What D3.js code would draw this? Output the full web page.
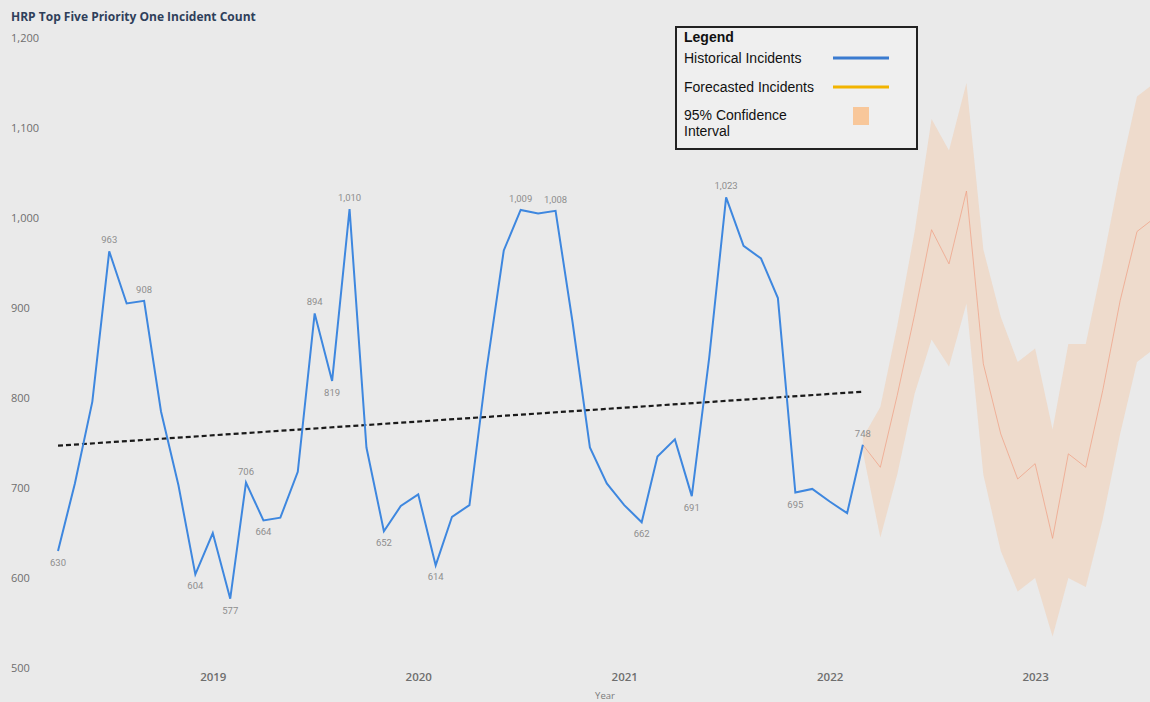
<!DOCTYPE html>
<html>
<head>
<meta charset="utf-8">
<script src="https://cdn.jsdelivr.net/npm/d3@7"></script>
<style>
  body { margin: 0; background: #eaeaea; }
  svg { display: block; }
  .axis text { font-family: "Open Sans", sans-serif; fill: #6e6e6e; }
  .axis path, .axis line { display: none; }
  .dlabel { font-family: "Liberation Sans Narrow", "Roboto", sans-serif; font-size: 9.5px; fill: #8e8e8e; }
  .legend text { font-family: "Liberation Sans", Arial, sans-serif; fill: #111; }
</style>
</head>
<body>
<svg width="1150" height="702"></svg>
<script>
// monthly historical counts, starting April 2018
const startMonth = new Date(2018, 3, 1);
const historical = [630, 705, 796, 963, 905, 908, 785, 703, 604, 650, 577, 706,
                    664, 667, 718, 894, 819, 1010, 745, 652, 680, 693, 614, 668,
                    681, 830, 964, 1009, 1005, 1008, 885, 745, 705, 681, 662, 735,
                    754, 691, 845, 1023, 969, 955, 911, 695, 699, 685, 672, 748];
// forecast starts at the last historical month (index 47)
const forecastStart = 47;
const forecast = [748, 723, 803, 893, 987, 949, 1030, 838, 760, 710, 727, 644, 738, 723, 808, 908, 985, 1000];
const lower    = [740, 645, 715, 805, 865, 835, 905, 715, 630, 585, 600, 535, 600, 590, 665, 760, 840, 855];
const upper    = [756, 790, 880, 985, 1110, 1075, 1150, 965, 890, 840, 855, 765, 860, 860, 950, 1050, 1135, 1150];
// dotted trend line, value at first and last historical month
const trend = [747, 807];
// months that carry a data label
const labelled = [0, 3, 5, 8, 10, 11, 12, 15, 16, 17, 19, 22, 27, 29, 34, 37, 39, 43, 47];
const yTicks = [500, 600, 700, 800, 900, 1000, 1100, 1200];
const legendItems = ["Historical Incidents", "Forecasted Incidents"];

const month = i => d3.timeMonth.offset(startMonth, i);

const svg = d3.select("svg");

const x = d3.scaleTime()
    .domain([new Date(2018, 3, 1), new Date(2023, 6, 1)])
    .range([58, 1137]);

const y = d3.scaleLinear()
    .domain([500, 1200])
    .range([668, 38]);

// title
svg.append("text")
    .attr("x", 11).attr("y", 21)
    .attr("font-family", "Open Sans, sans-serif")
    .attr("font-weight", 700)
    .attr("font-size", 12)
    .attr("fill", "#2f3f5a")
    .text("HRP Top Five Priority One Incident Count");

// axes
const yAxis = d3.axisRight(y)
    .tickValues(yTicks)
    .tickSize(0)
    .tickPadding(0)
    .tickFormat(d3.format(","));

svg.append("g")
    .attr("class", "axis")
    .attr("transform", "translate(11,0)")
    .call(yAxis)
    .selectAll("text").attr("font-size", 11);

const xAxis = d3.axisBottom(x)
    .ticks(d3.timeYear.every(1))
    .tickSize(0)
    .tickPadding(0)
    .tickFormat(d3.timeFormat("%Y"));

svg.append("g")
    .attr("class", "axis")
    .attr("transform", "translate(0,673)")
    .call(xAxis)
    .selectAll("text").attr("font-size", 11.5).attr("font-weight", 600);

svg.append("text")
    .attr("x", 605).attr("y", 699)
    .attr("text-anchor", "middle")
    .attr("font-family", "Open Sans, sans-serif")
    .attr("font-size", 9.5)
    .attr("fill", "#7a7a7a")
    .text("Year");

// confidence band + forecast
const fdata = forecast.map((v, k) => ({ d: month(forecastStart + k), v: v, lo: lower[k], hi: upper[k] }));

svg.append("path")
    .datum(fdata)
    .attr("d", d3.area().x(d => x(d.d)).y0(d => y(d.lo)).y1(d => y(d.hi)))
    .attr("fill", "#f3c6a2")
    .attr("opacity", 0.42);

svg.append("path")
    .datum(fdata)
    .attr("d", d3.line().x(d => x(d.d)).y(d => y(d.v)))
    .attr("fill", "none")
    .attr("stroke", "#efa287")
    .attr("stroke-width", 1)
    .attr("opacity", 0.75);

// trend
svg.append("line")
    .attr("x1", x(month(0))).attr("y1", y(trend[0]))
    .attr("x2", x(month(historical.length - 1))).attr("y2", y(trend[1]))
    .attr("stroke", "#1a1a1a")
    .attr("stroke-width", 2.2)
    .attr("stroke-dasharray", "5,3");

// historical
const hdata = historical.map((v, i) => ({ d: month(i), v: v, i: i }));

svg.append("path")
    .datum(hdata)
    .attr("d", d3.line().x(d => x(d.d)).y(d => y(d.v)))
    .attr("fill", "none")
    .attr("stroke", "#3e87df")
    .attr("stroke-width", 2);

// data labels: peaks above, troughs below
const isPeak = i => {
    const prev = historical[i - 1], next = historical[i + 1];
    const ref = prev === undefined ? next : (next === undefined ? prev : Math.max(prev, next));
    return historical[i] >= ref;
};

svg.selectAll(".dlabel")
    .data(labelled)
    .join("text")
    .attr("class", "dlabel")
    .attr("x", i => x(month(i)))
    .attr("y", i => y(historical[i]) + (isPeak(i) ? -8 : 15))
    .attr("text-anchor", "middle")
    .text(i => d3.format(",")(historical[i]));

// legend
const lg = svg.append("g").attr("class", "legend").attr("transform", "translate(676,27)");
lg.append("rect")
    .attr("width", 241).attr("height", 122)
    .attr("fill", "#efefef")
    .attr("stroke", "#222").attr("stroke-width", 2);
lg.append("text").attr("x", 8).attr("y", 15)
    .attr("font-size", 14).attr("font-weight", 700).text("Legend");
const legendColors = ["#3a7bd0", "#f2b400"];
legendItems.forEach((t, k) => {
    const cy = 31 + k * 29;
    lg.append("text").attr("x", 8).attr("y", cy + 5).attr("font-size", 14).text(t);
    lg.append("line").attr("x1", 157).attr("x2", 213).attr("y1", cy).attr("y2", cy)
        .attr("stroke", legendColors[k]).attr("stroke-width", 3);
});
lg.append("text").attr("x", 8).attr("y", 93).attr("font-size", 14).text("95% Confidence");
lg.append("text").attr("x", 8).attr("y", 109).attr("font-size", 14).text("Interval");
lg.append("rect").attr("x", 177).attr("y", 80).attr("width", 16).attr("height", 18)
    .attr("fill", "#f8c79a");
</script>
</body>
</html>
